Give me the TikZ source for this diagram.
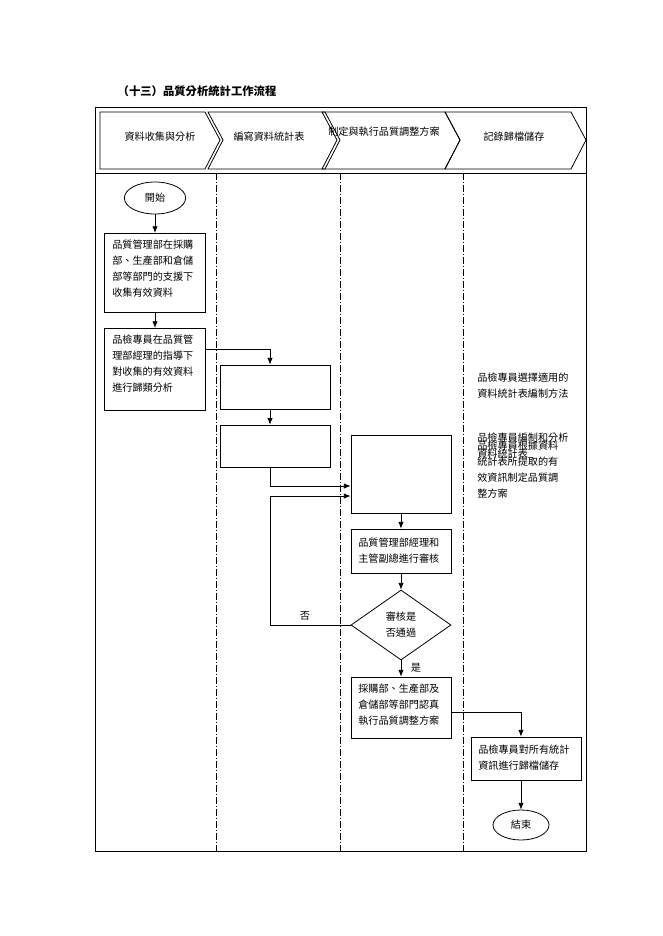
\documentclass[tikz,border=0pt]{standalone}
\usepackage{fontspec}
\setmainfont{Liberation Serif}
\newfontfamily\cjk{Noto Sans CJK TC}
\usetikzlibrary{shapes.geometric,arrows.meta}
\begin{document}
\begin{tikzpicture}[x=0.75pt,y=-0.75pt,
  txt/.style={font=\cjk\fontsize{7.6}{12}\selectfont},
  box/.style={draw,line width=0.6pt},
  btxt/.style={txt,anchor=north west,align=left,inner sep=0pt},
  lane/.style={line width=0.6pt,dash pattern=on 5pt off 1.5pt on 1pt off 1.5pt},
  arr/.style={-{Latex[length=5pt,width=4pt]},line width=0.6pt},
  chev/.style={draw,line width=0.6pt}]
\useasboundingbox (0,0) rectangle (662,936);
\node[anchor=west,font=\cjk\bfseries\fontsize{8.5}{10}\selectfont] (title) at (113,91) {（十三）品質分析統計工作流程};
\draw[line width=0.6pt] (95,107) rectangle (586,851);
\draw[line width=0.6pt] (95,173) -- (586,173);
% chevrons
\draw[chev] (100,112) -- (205,112) -- (220,140) -- (205,169) -- (100,169) -- cycle;
\draw[chev] (208,112) -- (325,112) -- (340,140) -- (325,169) -- (208,169) -- (223,140) -- cycle;
\draw[chev] (322,112) -- (445,112) -- (460,140) -- (445,169) -- (322,169) -- (337,140) -- cycle;
\draw[chev] (445,112) -- (571,112) -- (586,140) -- (571,169) -- (445,169) -- (460,140) -- cycle;
\node[txt] (h1) at (160,137) {資料收集與分析};
\node[txt] (h2) at (269,137) {編寫資料統計表};
\node[txt] (h3) at (384,132) {制定與執行品質調整方案};
\node[txt] (h4) at (514,137) {記錄歸檔儲存};
% lanes
\draw[lane] (216,173) -- (216,851);
\draw[lane] (340,173) -- (340,851);
\draw[lane] (463,173) -- (463,851);
% nodes
\node[draw,ellipse,line width=0.6pt,minimum width=46pt,minimum height=24pt,txt] (start) at (155,198) {開始};
\draw[box] (104,233) rectangle (205,312); \coordinate (b1t) at (155,233); \coordinate (b1b) at (155,312);
\node[btxt] (t1) at (112,240) {品質管理部在採購\\部、生產部和倉儲\\部等部門的支援下\\收集有效資料};
\draw[box] (104,328) rectangle (205,410); \coordinate (b2t) at (155,328); \coordinate (b2r) at (205,349);
\node[btxt] (t2) at (112,335) {品檢專員在品質管\\理部經理的指導下\\對收集的有效資料\\進行歸類分析};
\node[box,minimum width=83pt,minimum height=33pt,inner sep=0pt] (b3) at (275.5,387) {};
\node[box,minimum width=83pt,minimum height=32pt,inner sep=0pt] (b4) at (275.5,446.5) {};
\node[box,minimum width=75pt,minimum height=58.5pt,inner sep=0pt] (b5) at (401,474) {};
\node[box,minimum width=75pt,minimum height=33pt,inner sep=0pt] (b6) at (401,551) {};
\node[btxt] (t6) at (358,538) {品質管理部經理和\\主管副總進行審核};
\node[draw,diamond,line width=0.6pt,minimum width=75pt,minimum height=52.5pt,inner sep=0pt,txt,align=center] (d) at (401,625) {審核是\\否通過};
\node[box,minimum width=75pt,minimum height=45.75pt,inner sep=0pt] (b7) at (401,707.5) {};
\node[btxt] (t7) at (358,684) {採購部、生產部及\\倉儲部等部門認真\\執行品質調整方案};
\node[box,minimum width=82.5pt,minimum height=32.25pt,inner sep=0pt] (b8) at (526,758.5) {};
\node[btxt] (t8) at (478,745) {品檢專員對所有統計\\資訊進行歸檔儲存};
\node[draw,ellipse,line width=0.6pt,minimum width=42pt,minimum height=22.5pt,txt] (end) at (521,825) {結束};
% floating texts
\node[btxt] (f1) at (477,373) {品檢專員選擇適用的\\資料統計表編制方法};
\node[btxt] (f2) at (477,433) {品檢專員編制和分析\\資料統計表};
\node[btxt] (f3) at (477,441) {品檢專員根據資料\\統計表所提取的有\\效資訊制定品質調\\整方案};
% arrows
\draw[arr] (start) -- (b1t);
\draw[arr] (b1b) -- (b2t);
\draw[arr] (b2r) -| (b3.north -| 270,0);
\draw[arr] (b3.south -| 270,0) -- (b4.north -| 270,0);
\coordinate (c1) at (270,486);
\draw[arr] (b4.south -| c1) -- (c1) -- (b5.west |- c1);
\coordinate (c2) at (270,496);
\draw[arr] (d.west) -| (c2) -- (b5.west |- c2);
\node[txt] (no) at (305,616) {否};
\draw[arr] (b5) -- (b6);
\draw[arr] (b6) -- (d);
\draw[arr] (d) -- (b7);
\node[txt] (yes) at (416,668) {是};
\coordinate (c3) at (451,712);
\draw[arr] (c3) -| (b8.north -| end);
\draw[arr] (b8.south -| end) -- (end);
\end{tikzpicture}
\end{document}
